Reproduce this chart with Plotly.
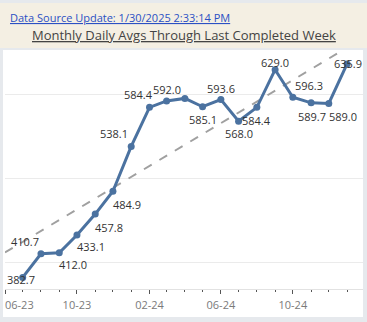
import numpy as np
import pandas as pd
import plotly.graph_objects as go

# ---- data ----
months = ["2023-07-01", "2023-08-01", "2023-09-01", "2023-10-01", "2023-11-01",
          "2023-12-01", "2024-01-01", "2024-02-01", "2024-03-01", "2024-04-01",
          "2024-05-01", "2024-06-01", "2024-07-01", "2024-08-01", "2024-09-01",
          "2024-10-01", "2024-11-01", "2024-12-01", "2025-01-01"]
daily_avg = [382.7, 410.7, 412.0, 433.1, 457.8, 484.9, 538.1, 584.4, 592.0, 595.0,
             585.1, 593.6, 568.0, 584.4, 629.0, 596.3, 589.7, 589.0, 635.9]
show_label = [True] * 9 + [False] + [True] * 9
tick_dates = ["2023-06-01", "2023-10-01", "2024-02-01", "2024-06-01", "2024-10-01"]
tick_labels = ["06-23", "10-23", "02-24", "06-24", "10-24"]
title_text = "Monthly Daily Avgs Through Last Completed Week"
source_text = "Data Source Update: 1/30/2025 2:33:14 PM"

# ---- styling / layout (pixels) ----
W, H = 367, 322
L, R, T, B = 5, 4, 52, 33
x_range = ["2023-06-01", "2025-01-28"]
y_range = [369, 650]
FONT = "Open Sans"
LINE_COLOR = "#4b72a0"
# label offsets (dx, dy) in px, screen-down positive
label_offsets = [(-2, 2), (-16, -12), (14, 12), (14, 12), (14, 13), (14, 13),
                 (-17, -13), (-11, -13), (0, -11), None, (0, 13), (0, -11),
                 (0, 12), (0, 13), (0, -7), (16, -12), (1, 14), (14, 13), (1, 0)]

pw = W - L - R
ph = H - T - B


def px_x(p):
    return (p - L) / pw


def px_y(p):
    return (H - B - p) / ph


dates = pd.to_datetime(months)
fig = go.Figure()

# trend line (linear regression on dates)
t0 = pd.Timestamp(x_range[0])
days = np.array([(d - t0).days for d in dates], dtype=float)
slope, intercept = np.polyfit(days, np.array(daily_avg), 1)
t_end = (pd.Timestamp(x_range[1]) - t0).days
tx = [t0, pd.Timestamp(x_range[1])]
ty = [intercept, intercept + slope * t_end]
fig.add_trace(go.Scatter(x=tx, y=ty, mode="lines",
                         line=dict(color="#a0a0a0", width=2, dash="dash"),
                         hoverinfo="skip", showlegend=False))

fig.add_trace(go.Scatter(x=dates, y=daily_avg, mode="lines+markers",
                         line=dict(color=LINE_COLOR, width=3),
                         marker=dict(color=LINE_COLOR, size=7),
                         showlegend=False))

annotations = []
for d, v, show, off in zip(dates, daily_avg, show_label, label_offsets):
    if not show or off is None:
        continue
    annotations.append(dict(x=d, y=v, xref="x", yref="y", text=f"{v:.1f}",
                            showarrow=False, xshift=off[0], yshift=-off[1],
                            font=dict(family=FONT, size=11, color="#333333")))

# first tick label shifted to stay inside
annotations.append(dict(x=tick_dates[0], xref="x", y=px_y(304.5), yref="paper",
                        text=tick_labels[0], showarrow=False, xanchor="left",
                        yanchor="middle", xshift=-2,
                        font=dict(family=FONT, size=11, color="#7a7a7a")))
annotations.append(dict(x=px_x(8), y=px_y(18), xref="paper", yref="paper",
                        text=f"<u>{source_text}</u>", showarrow=False,
                        xanchor="left", yanchor="middle",
                        font=dict(family=FONT, size=11, color="#2b50c4")))
annotations.append(dict(x=px_x(184), y=px_y(35), xref="paper", yref="paper",
                        text=f"<u>{title_text}</u>", showarrow=False,
                        xanchor="center", yanchor="middle",
                        font=dict(family=FONT, size=13, color="#444444")))

shapes = [
    dict(type="rect", xref="paper", yref="paper", layer="below",
         x0=px_x(0), x1=px_x(W), y0=px_y(48), y1=px_y(3),
         fillcolor="#f4efe3", line=dict(width=0)),
    dict(type="rect", xref="paper", yref="paper", layer="below",
         x0=px_x(3), x1=px_x(363), y0=px_y(317), y1=px_y(50),
         fillcolor="#ffffff", line=dict(width=0)),
]

fig.update_layout(
    width=W, height=H,
    margin=dict(l=L, r=R, t=T, b=B, pad=0),
    paper_bgcolor="#e6e9ed",
    plot_bgcolor="rgba(0,0,0,0)",
    annotations=annotations,
    shapes=shapes,
    xaxis=dict(type="date", range=x_range, tickvals=tick_dates,
               ticktext=[""] + tick_labels[1:], ticks="outside", ticklen=4,
               tickcolor="#555555", tickwidth=1, showgrid=False,
               ticklabelstandoff=2,
               showline=True, linecolor="#e2e2e2", linewidth=1,
               tickfont=dict(family=FONT, size=11, color="#7a7a7a"),
               minor=dict(dtick="M1", tick0="2023-06-01", ticks="outside",
                          ticklen=2, tickcolor="#555555", showgrid=False),
               fixedrange=True),
    yaxis=dict(range=y_range, showticklabels=False, ticks="",
               tickvals=[400, 500, 600], showgrid=True, gridcolor="#ebebeb",
               gridwidth=1, zeroline=False, showline=False, fixedrange=True),
    font=dict(family=FONT),
)

fig.write_html("out.html")
